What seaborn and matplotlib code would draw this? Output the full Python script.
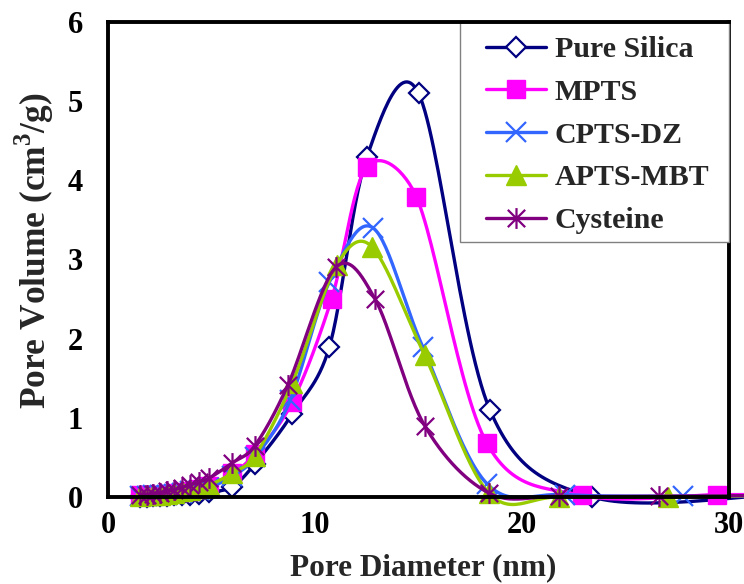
import numpy as np
import matplotlib
matplotlib.use("Agg")
import matplotlib.pyplot as plt
from matplotlib.path import Path
from matplotlib.lines import Line2D
from matplotlib.patches import Rectangle
import seaborn as sns

# Pore size distributions: pore diameter (nm) vs pore volume (cm3/g)
silica_d = [1.55, 1.87, 2.17, 2.5, 2.85, 3.2, 3.57, 3.96, 4.4, 4.9, 6.0, 7.1,
            8.9, 10.7, 12.5, 15.0, 18.45, 23.4, 32.0]
silica_v = [0.0, 0.0, 0.01, 0.01, 0.01, 0.02, 0.02, 0.03, 0.04, 0.06, 0.13, 0.42,
            1.05, 1.9, 4.29, 5.1, 1.1, 0.0, 0.02]

mpts_d = [1.55, 1.87, 2.17, 2.5, 2.85, 3.2, 3.57, 3.96, 4.4, 4.9, 6.0, 7.1,
          8.9, 10.8, 12.5, 14.9, 18.3, 22.9, 29.4, 32.0]
mpts_v = [0.02, 0.02, 0.03, 0.03, 0.04, 0.05, 0.06, 0.08, 0.1, 0.14, 0.3, 0.54,
          1.2, 2.5, 4.17, 3.79, 0.68, 0.02, 0.03, 0.03]

cpts_d = [1.55, 1.87, 2.17, 2.5, 2.85, 3.2, 3.57, 3.96, 4.4, 4.9, 6.0, 7.1,
          8.8, 10.7, 12.8, 15.2, 18.3, 22.1, 27.8, 32.0]
cpts_v = [0.01, 0.01, 0.02, 0.02, 0.03, 0.04, 0.05, 0.07, 0.09, 0.12, 0.26, 0.5,
          1.22, 2.72, 3.4, 1.9, 0.17, 0.03, 0.01, 0.01]

apts_d = [1.55, 1.87, 2.17, 2.5, 2.85, 3.2, 3.57, 3.96, 4.4, 4.9, 6.0, 7.1,
          8.9, 11.05, 12.75, 15.3, 18.4, 21.8, 27.05, 32.0]
apts_v = [0.01, 0.02, 0.02, 0.03, 0.04, 0.05, 0.07, 0.09, 0.11, 0.15, 0.3, 0.52,
          1.44, 2.93, 3.16, 1.79, 0.05, 0.0, 0.0, 0.02]

cys_d = [1.55, 1.87, 2.17, 2.5, 2.85, 3.2, 3.57, 3.96, 4.4, 4.9, 6.0, 7.1,
         8.7, 11.0, 12.9, 15.3, 18.4, 21.8, 26.6, 32.0]
cys_v = [0.02, 0.03, 0.04, 0.05, 0.07, 0.09, 0.12, 0.15, 0.19, 0.24, 0.43, 0.65,
         1.42, 2.9, 2.5, 0.9, 0.05, 0.01, 0.01, 0.02]

labels = ["Pure Silica", "MPTS", "CPTS-DZ", "APTS-MBT", "Cysteine"]
x_ticks = [0, 10, 20, 30]
y_ticks = [0, 1, 2, 3, 4, 5, 6]
x_range = (0, 30)
y_range = (0, 6)

sns.set_style("white")
plt.rcParams["font.family"] = ["Liberation Serif", "DejaVu Serif"]
plt.rcParams["font.weight"] = "bold"
plt.rcParams["mathtext.fontset"] = "custom"
plt.rcParams["mathtext.rm"] = "Liberation Serif:bold"
plt.rcParams["mathtext.bf"] = "Liberation Serif:bold"

fig = plt.figure(figsize=(7.44, 5.84), dpi=100)
ax_w, ax_h = 621, 475
ax = fig.add_axes([108 / 744, 87 / 584, ax_w / 744, ax_h / 584])

# screen scale of one data unit, so smoothing behaves like it does on screen
sx_scale = ax_w / (x_range[1] - x_range[0])
sy_scale = ax_h / (y_range[1] - y_range[0])


def smooth_curve(x, y, n=30, cap=0.5):
    """Piecewise cubic Bezier through the points; neighbour-based tangents
    (1/6 tension), limited to a fraction of each segment's screen length."""
    p = np.column_stack([np.asarray(x) * sx_scale, np.asarray(y) * sy_scale])
    ext = np.vstack([p[0], p, p[-1]])
    t = np.linspace(0, 1, n)[1:, None]
    pts = [p[:1]]
    for i in range(len(p) - 1):
        p0, p1, p2, p3 = ext[i], ext[i + 1], ext[i + 2], ext[i + 3]
        seg_len = np.hypot(*(p2 - p1))
        o1 = (p2 - p0) / 6.0
        o2 = (p3 - p1) / 6.0
        for o in (o1, o2):
            L = np.hypot(*o)
            if L > cap * seg_len and L > 0:
                o *= cap * seg_len / L
        c1 = p1 + o1
        c2 = p2 - o2
        seg = ((1 - t) ** 3) * p1 + 3 * ((1 - t) ** 2) * t * c1 \
            + 3 * (1 - t) * t ** 2 * c2 + t ** 3 * p2
        pts.append(seg)
    pts = np.vstack(pts)
    return pts[:, 0] / sx_scale, pts[:, 1] / sy_scale


# six-armed star marker: an "x" crossed by a vertical stroke
asterisk = Path([(-1, -1), (1, 1), (-1, 1), (1, -1), (0, -1.2), (0, 1.2)],
                [Path.MOVETO, Path.LINETO, Path.MOVETO, Path.LINETO,
                 Path.MOVETO, Path.LINETO])

series = [
    (silica_d, silica_v, "#000080", dict(marker="D", ms=10, mfc="white", mec="#000080", mew=1.6)),
    (mpts_d, mpts_v, "#FF00FF", dict(marker="s", ms=13, mfc="#FF00FF", mec="#FF00FF", mew=1)),
    (cpts_d, cpts_v, "#3366FF", dict(marker="x", ms=15, mec="#3366FF", mew=1.6)),
    (apts_d, apts_v, "#99CC00", dict(marker="^", ms=15, mfc="#99CC00", mec="#99CC00", mew=1)),
    (cys_d, cys_v, "#800080", dict(marker=asterisk, ms=15, mec="#800080", mew=1.6)),
]

lw = 2.4
handles = []
for k, (d, v, col, mk) in enumerate(series):
    cx, cy = smooth_curve(d, v)
    sns.lineplot(x=cx, y=cy, sort=False, estimator=None, color=col, lw=lw,
                 ax=ax, clip_on=False, zorder=2 + k * 0.1)
    ax.plot(d, v, ls="none", clip_on=False, zorder=2.05 + k * 0.1, **mk)
    handles.append(Line2D([], [], color=col, lw=lw, **mk))

ax.set_xlim(*x_range)
ax.set_ylim(*y_range)
ax.set_xticks(x_ticks)
ax.set_yticks(y_ticks)
ax.tick_params(axis="both", direction="out", length=7, width=1, color="#808080",
               labelsize=22, labelcolor="black")
ax.tick_params(axis="x", pad=3)
ax.tick_params(axis="y", pad=11)
for lab in ax.get_xticklabels() + ax.get_yticklabels():
    lab.set_fontweight("bold")

for side in ["left", "bottom", "top", "right"]:
    ax.spines[side].set_color("black")
    ax.spines[side].set_linewidth(2.8)
ax.spines["top"].set_zorder(4)

ax.set_xlabel("Pore Diameter (nm)", fontsize=22.5, fontweight="bold")
ax.xaxis.set_label_coords(0.508, -0.119)
ax.set_ylabel(r"Pore Volume (cm$^{\mathbf{3}}$/g)", fontsize=25.5, fontweight="bold")
ax.yaxis.set_label_coords(-0.084, 0.519)

# legend box
ax.add_patch(Rectangle((352 / ax_w, 255 / ax_h), 269 / ax_w, 220 / ax_h, transform=ax.transAxes,
                       facecolor="white", edgecolor="#808080", lw=1, zorder=3, clip_on=False))
leg = ax.legend(handles, labels, loc="upper left",
                bbox_to_anchor=(486 / 744, 1 - 36 / 584), bbox_transform=fig.transFigure,
                frameon=False, borderpad=0, borderaxespad=0, handlelength=2.0,
                handletextpad=0.3, labelspacing=0.53,
                prop={"family": "Liberation Serif", "weight": "bold", "size": 21.5})
leg.set_zorder(5)

fig.savefig("out.png", dpi=100)
